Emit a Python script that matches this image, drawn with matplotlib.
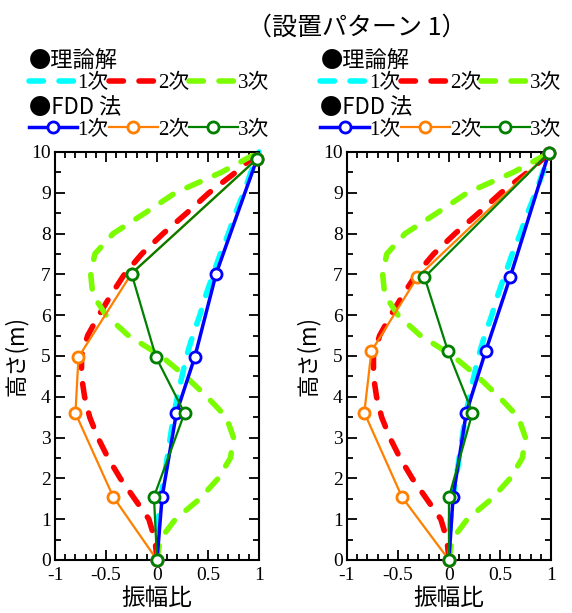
import matplotlib
matplotlib.use("Agg")
import matplotlib.pyplot as plt
from matplotlib.ticker import MultipleLocator, FuncFormatter

plt.rcParams["font.family"] = ["Liberation Serif", "Noto Sans CJK JP"]
plt.rcParams["axes.unicode_minus"] = False

# theoretical mode shapes (same in both panels)
theory_h = [0, 0.5, 1, 1.5, 2, 2.5, 3, 3.5, 4, 4.5, 5,
            5.5, 6, 6.5, 7, 7.5, 8, 8.5, 9, 9.5, 10]
theory_1 = [0, 0.005, 0.015, 0.035, 0.07, 0.10, 0.13, 0.16, 0.20, 0.245, 0.29,
            0.35, 0.42, 0.48, 0.55, 0.62, 0.70, 0.77, 0.85, 0.92, 1.0]
theory_2 = [0, -0.02, -0.08, -0.22, -0.36, -0.48, -0.58, -0.66, -0.71, -0.74, -0.74,
            -0.68, -0.57, -0.45, -0.32, -0.15, 0.06, 0.29, 0.51, 0.77, 1.0]
theory_3 = [0, 0.03, 0.18, 0.42, 0.60, 0.72, 0.75, 0.68, 0.49, 0.28, 0.04,
            -0.28, -0.50, -0.63, -0.65, -0.61, -0.43, -0.12, 0.18, 0.63, 1.0]

# FDD results, left panel
fdd_h_a = [0, 1.55, 3.6, 4.97, 7.02, 9.83]
fdd_1_a = [0, 0.05, 0.19, 0.37, 0.58, 0.98]
fdd_2_a = [0, -0.43, -0.80, -0.77, -0.25, 0.98]
fdd_3_a = [0, -0.03, 0.27, -0.01, -0.25, 0.98]

# FDD results, right panel
fdd_h_b = [0, 1.54, 3.61, 5.12, 6.93, 9.98]
fdd_1_b = [0, 0.04, 0.17, 0.36, 0.60, 0.98]
fdd_2_b = [0, -0.46, -0.83, -0.76, -0.31, 0.98]
fdd_3_b = [0, 0.0, 0.23, -0.01, -0.24, 0.98]

labels = ["1次", "2次", "3次"]
theory_colors = ["#00FFFF", "#FF0000", "#7CFC00"]
fdd_colors = ["#0000FF", "#FF7F00", "#008000"]
fdd_widths = [2.5, 1.6, 1.6]

fig = plt.figure(figsize=(5.72, 6.13), dpi=100)
ax_a = fig.add_axes([0.0962, 0.0865, 0.3566, 0.6656])
ax_b = fig.add_axes([0.6066, 0.0865, 0.3566, 0.6656])

fig.text(0.624, 0.955, "（設置パターン 1）", fontsize=18,
         family="Noto Sans CJK JP", ha="center", va="center")


def draw(ax, fh, f1, f2, f3):
    th_lines = []
    for vals, c, lab in zip([theory_1, theory_2, theory_3], theory_colors, labels):
        ln, = ax.plot(vals, theory_h, color=c, lw=4, dashes=(2.6, 2.8),
                      dash_capstyle="round", label=lab, clip_on=False)
        th_lines.append(ln)
    fdd_lines = []
    for vals, c, w, lab in zip([f1, f2, f3], fdd_colors, fdd_widths, labels):
        ln, = ax.plot(vals, fh, color=c, lw=w, marker="o", ms=8, mew=2,
                      mfc="white", mec=c, label=lab, clip_on=False, zorder=3)
        fdd_lines.append(ln)

    ax.set_xlim(-1, 1)
    ax.set_ylim(0, 10)
    ax.xaxis.set_major_locator(MultipleLocator(0.5))
    ax.xaxis.set_minor_locator(MultipleLocator(0.1))
    ax.yaxis.set_major_locator(MultipleLocator(1))
    ax.yaxis.set_minor_locator(MultipleLocator(0.5))
    ax.xaxis.set_major_formatter(FuncFormatter(lambda v, p: f"{v:g}"))
    ax.tick_params(which="both", direction="in", top=True, right=True,
                   width=1.3, labelsize=14)
    ax.tick_params(axis="x", pad=5)
    ax.tick_params(axis="y", pad=3)
    ax.tick_params(which="major", length=7)
    ax.tick_params(which="minor", length=4)
    for s in ax.spines.values():
        s.set_linewidth(1.5)
    ax.set_xlabel("振幅比", fontsize=17, family="Noto Sans CJK JP", labelpad=2)
    ax.set_ylabel("高さ(m)", fontsize=16, family="Noto Sans CJK JP", labelpad=2)

    common = dict(ncol=3, frameon=False, fontsize=15, handlelength=2.35,
                  handletextpad=0.0, columnspacing=0.0, borderpad=0,
                  borderaxespad=0, labelspacing=0.05, loc="lower left",
                  alignment="left",
                  title_fontproperties={"size": 16, "family": "Noto Sans CJK JP"})
    leg1 = ax.legend(handles=th_lines, title="●理論解",
                     bbox_to_anchor=(-0.13, 1.145), **common)
    ax.add_artist(leg1)
    ax.legend(handles=fdd_lines, title="●FDD 法",
              bbox_to_anchor=(-0.13, 1.03), **common)


draw(ax_a, fdd_h_a, fdd_1_a, fdd_2_a, fdd_3_a)
draw(ax_b, fdd_h_b, fdd_1_b, fdd_2_b, fdd_3_b)

fig.savefig("out.png", dpi=100)
